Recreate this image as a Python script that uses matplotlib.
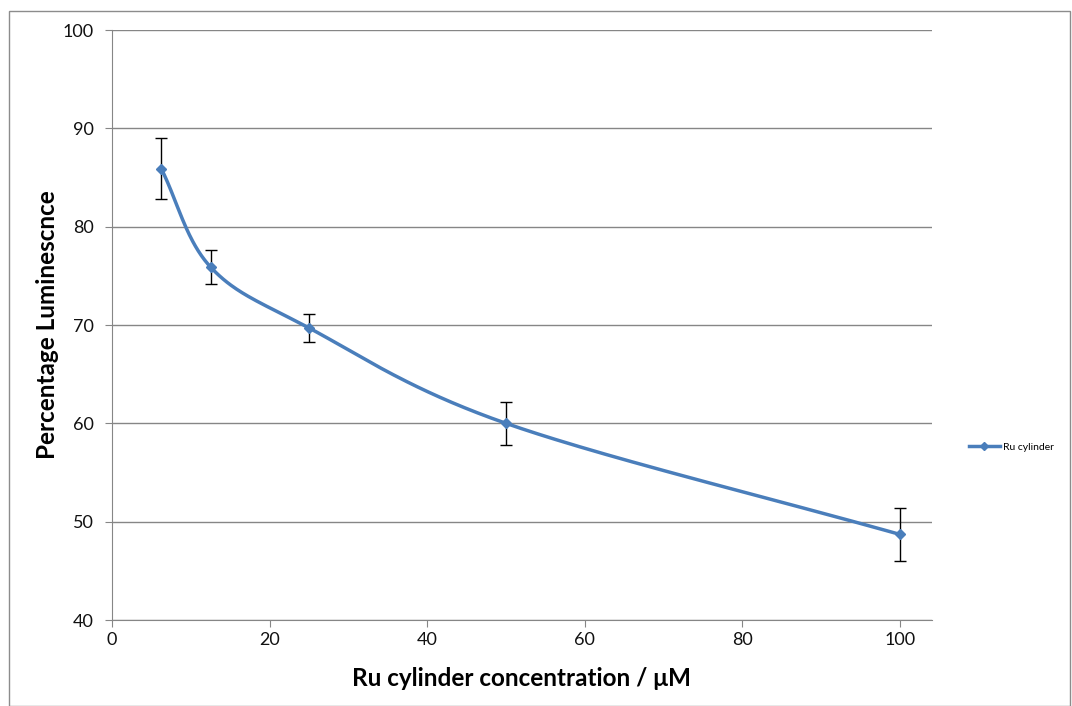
import numpy as np
import matplotlib.pyplot as plt
from matplotlib.patches import Rectangle

conc = [6.25, 12.5, 25, 50, 100]
lum = [85.9, 75.9, 69.7, 60.0, 48.7]
err = [3.1, 1.7, 1.4, 2.2, 2.7]


def smooth(x, y, n=60):
    # Catmull-Rom style smoothing, similar to Excel's smoothed line
    x = np.asarray(x, float)
    y = np.asarray(y, float)
    px = np.concatenate([[2 * x[0] - x[1]], x, [2 * x[-1] - x[-2]]])
    py = np.concatenate([[2 * y[0] - y[1]], y, [2 * y[-1] - y[-2]]])
    xs, ys = [], []
    t = np.linspace(0, 1, n)
    for i in range(1, len(px) - 2):
        p0, p1, p2, p3 = (np.array([px[j], py[j]]) for j in range(i - 1, i + 3))
        c1 = p1 + (p2 - p0) / 6
        c2 = p2 - (p3 - p1) / 6
        pts = ((1 - t)[:, None] ** 3 * p1 + 3 * ((1 - t) ** 2 * t)[:, None] * c1
               + 3 * ((1 - t) * t ** 2)[:, None] * c2 + (t ** 3)[:, None] * p2)
        xs.extend(pts[:, 0])
        ys.extend(pts[:, 1])
    return np.array(xs), np.array(ys)


plt.rcParams['font.family'] = ['Lato', 'DejaVu Sans']

fig = plt.figure(figsize=(10.72, 7.06), dpi=100)
fig.patches.append(Rectangle((0.008, 0.0), 0.99, 0.985, transform=fig.transFigure,
                             fill=False, edgecolor='#8c8c8c', linewidth=1))
ax = fig.add_axes([0.1045, 0.1218, 0.7645, 0.8357])

line_color = '#4a7ebb'
sx, sy = smooth(conc, lum)
ax.plot(sx, sy, color=line_color, lw=2.5, zorder=3)
ax.plot(conc, lum, linestyle='none', marker='D', markersize=5, color=line_color, zorder=4)
ax.errorbar(conc, lum, yerr=err, fmt='none', ecolor='black', elinewidth=1,
            capsize=4, capthick=1, zorder=2)

ax.set_xlim(0, 104)
ax.set_ylim(40, 100)
ax.set_xticks([0, 20, 40, 60, 80, 100])
ax.set_yticks([40, 50, 60, 70, 80, 90, 100])
ax.yaxis.grid(True, color='#868686', lw=1)
ax.set_axisbelow(True)
for s in ['top', 'right']:
    ax.spines[s].set_visible(False)
for s in ['left', 'bottom']:
    ax.spines[s].set_color('#868686')
ax.tick_params(axis='both', colors='#868686', labelcolor='#111111', labelsize=13,
               length=5, direction='out')
ax.tick_params(axis='y', pad=8)

ax.set_xlabel('Ru cylinder concentration / μM', fontsize=17.5, fontweight='bold', labelpad=14)
ax.set_ylabel('Percentage Luminescnce', fontsize=17.5, fontweight='bold', labelpad=3)

handle = plt.Line2D([0], [0], color=line_color, lw=2.5, marker='D', markersize=4)
fig.legend([handle], ['Ru cylinder'], loc='center left', bbox_to_anchor=(0.895, 0.367),
           frameon=False, fontsize=7.5, handlelength=3, handletextpad=0.3)

fig.savefig('out.png', dpi=100)
